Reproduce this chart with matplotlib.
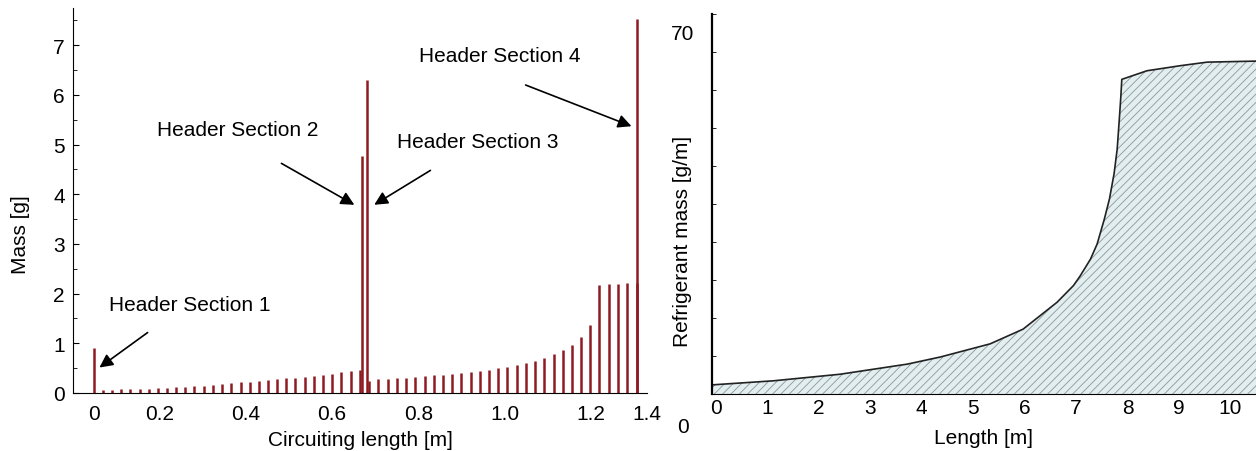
import numpy as np
import matplotlib.pyplot as plt
from matplotlib.ticker import MultipleLocator

plt.rcParams['font.family'] = ['Liberation Sans', 'DejaVu Sans']
plt.rcParams['hatch.linewidth'] = 0.6

# mass per tube segment along the circuit, two passes separated by the middle header
pass1_x = [0.069, 0.090, 0.111, 0.132, 0.154, 0.175, 0.196, 0.218, 0.239, 0.260,
           0.281, 0.303, 0.324, 0.345, 0.366, 0.388, 0.409, 0.430, 0.451, 0.473,
           0.494, 0.515, 0.536, 0.558, 0.579, 0.600, 0.621, 0.643, 0.664]
pass1_mass = [0.07, 0.07, 0.08, 0.08, 0.09, 0.09, 0.10, 0.11, 0.12, 0.13,
              0.14, 0.15, 0.16, 0.18, 0.20, 0.22, 0.23, 0.25, 0.27, 0.28,
              0.30, 0.31, 0.33, 0.35, 0.37, 0.39, 0.42, 0.44, 0.47]
pass2_x = [0.686, 0.707, 0.729, 0.750, 0.771, 0.793, 0.814, 0.835, 0.857, 0.878,
           0.899, 0.921, 0.942, 0.963, 0.985, 1.006, 1.027, 1.049, 1.070, 1.091,
           1.113, 1.134, 1.155, 1.177, 1.198, 1.219, 1.241, 1.262, 1.283, 1.305]
pass2_mass = [0.25, 0.28, 0.29, 0.30, 0.31, 0.33, 0.34, 0.36, 0.37, 0.39,
              0.41, 0.43, 0.45, 0.47, 0.50, 0.53, 0.56, 0.60, 0.65, 0.71,
              0.78, 0.86, 0.96, 1.12, 1.36, 2.18, 2.19, 2.20, 2.21, 2.22]
header_x = [0.048, 0.668, 0.680, 1.305]
header_mass = [0.90, 4.78, 6.30, 7.52]
header_names = ['Header Section 1', 'Header Section 2', 'Header Section 3', 'Header Section 4']

# refrigerant mass distribution along the tube
length = [-0.08, 1.11, 2.41, 3.72, 4.36, 5.33, 5.97, 6.63, 6.95, 7.08, 7.28,
          7.41, 7.55, 7.65, 7.74, 7.80, 7.84, 7.87, 7.89, 8.38, 9.03, 9.55, 10.50]
ref_mass = [1.8, 2.6, 3.9, 5.9, 7.3, 9.9, 12.8, 18.1, 21.4, 23.3, 26.6,
            29.6, 34.5, 38.5, 43.5, 48.3, 54.0, 58.5, 62.1, 63.8, 64.8, 65.5, 65.7]

bar_color = '#8e1b22'

fig = plt.figure(figsize=(12.56, 4.52), dpi=100)

# ---- left: segment masses
ax1 = fig.add_axes([73/1256, 1-394/452, (647-73)/1256, (394-9)/452])
ax1.vlines(pass1_x, 0, pass1_mass, color=bar_color, lw=1.8)
ax1.vlines(pass2_x, 0, pass2_mass, color=bar_color, lw=1.8)
ax1.vlines(header_x, 0, header_mass, color=bar_color, lw=1.8)
ax1.set_xlim(0, 1.329)
ax1.set_ylim(0, 7.75)
ax1.spines['top'].set_visible(False)
ax1.spines['right'].set_visible(False)
ax1.set_xticks([0.048, 0.2, 0.4, 0.6, 0.8, 1.0, 1.2, 1.329])
ax1.set_xticklabels(['0', '0.2', '0.4', '0.6', '0.8', '1.0', '1.2', '1.4'])
ax1.tick_params(axis='x', length=0, pad=8, labelsize=15)
ax1.set_yticks(range(0, 8))
ax1.yaxis.set_minor_locator(MultipleLocator(0.5))
ax1.tick_params(axis='y', which='major', direction='in', length=4, pad=6, labelsize=15)
ax1.tick_params(axis='y', which='minor', direction='in', length=3)
ax1.set_xlabel('Circuiting length [m]', fontsize=15, labelpad=5)
fig.text(20/1256, 1-235/452, 'Mass [g]', rotation=90, fontsize=15, ha='center', va='center')

text_pos = [(0.271, 1.79), (0.382, 5.31), (0.9375, 5.07), (0.988, 6.80)]
arrow_tail = [(0.178, 1.25), (0.477, 4.65), (0.833, 4.51), (1.042, 6.22)]
arrow_tip = [(0.056, 0.48), (0.657, 3.76), (0.692, 3.76), (1.299, 5.35)]
for name, tp, tail, tip in zip(header_names, text_pos, arrow_tail, arrow_tip):
    ax1.text(tp[0], tp[1], name, fontsize=15, ha='center', va='center')
    ax1.annotate('', xy=tip, xytext=tail,
                 arrowprops=dict(arrowstyle='-|>', color='black', lw=1.2, mutation_scale=20))

# ---- right: refrigerant mass per metre
ax2 = fig.add_axes([712/1256, 1-395/452, (1256-712)/1256, (395-15)/452])
ax2.fill_between(length, 0, ref_mass, facecolor='#e3eef1', edgecolor='#8c9898',
                 hatch='////', linewidth=0)
ax2.plot(length, ref_mass, color='#222222', lw=1.2)
ax2.set_xlim(-0.08, 10.5)
ax2.set_ylim(0, 75)
ax2.spines['top'].set_visible(False)
ax2.spines['right'].set_visible(False)
ax2.spines['left'].set_linewidth(1.6)
ax2.set_xticks(range(0, 11))
ax2.tick_params(axis='x', length=0, pad=3, labelsize=15)
ax2.set_yticks([])
ax2.yaxis.set_minor_locator(MultipleLocator(7.5))
ax2.tick_params(axis='y', which='minor', direction='in', length=3)
ax2.set_xlabel('Length [m]', fontsize=15, labelpad=8)
fig.text(683/1256, 1-35/452, '70', fontsize=15, ha='center', va='center')
fig.text(683/1256, 1-428/452, '0', fontsize=15, ha='center', va='center')
fig.text(682/1256, 1-241/452, 'Refrigerant mass [g/m]', rotation=90, fontsize=15,
         ha='center', va='center')

fig.savefig('out.png', dpi=100)
